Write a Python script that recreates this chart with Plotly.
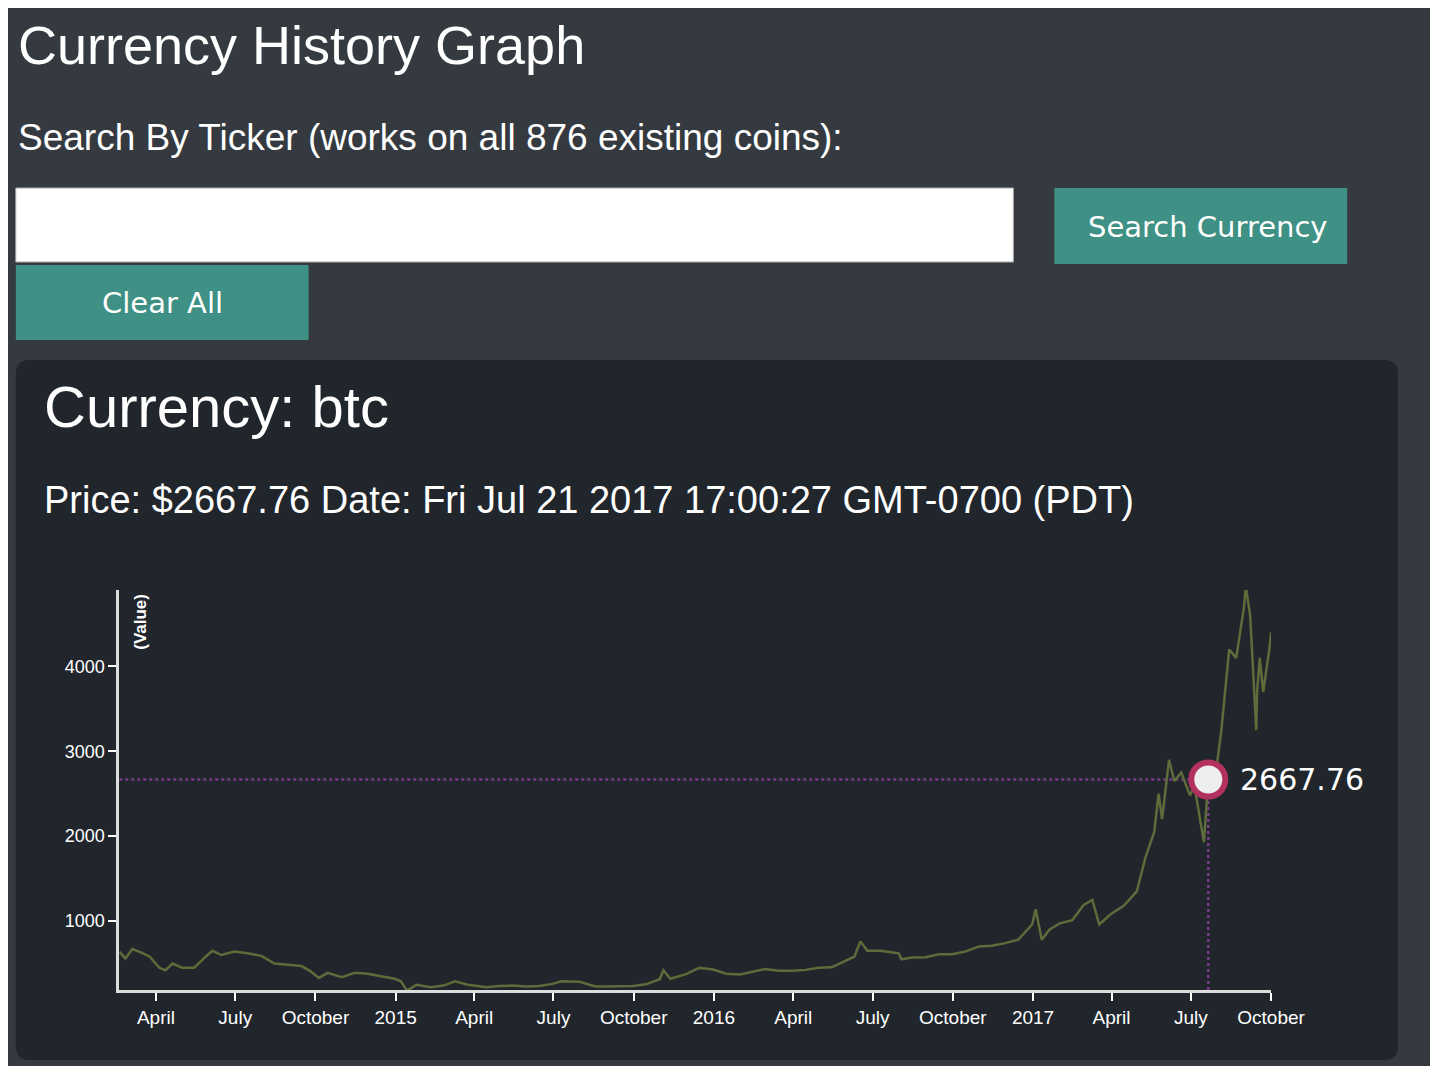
import plotly.graph_objects as go

# page body adds an 8px margin, so the figure is a bit smaller than the window
W, H = 1422, 1058
OFF = 8

# btc price history
dates = [
    "2014-02-18", "2014-02-25", "2014-03-05", "2014-03-15", "2014-03-25", "2014-04-05", "2014-04-12",
    "2014-04-20", "2014-05-01", "2014-05-15", "2014-05-28", "2014-06-05", "2014-06-15", "2014-06-30",
    "2014-07-15", "2014-07-31", "2014-08-15", "2014-08-31", "2014-09-15", "2014-09-25", "2014-10-05",
    "2014-10-15", "2014-10-31", "2014-11-15", "2014-11-30", "2014-12-15", "2014-12-31", "2015-01-07",
    "2015-01-14", "2015-01-25", "2015-02-10", "2015-02-25", "2015-03-10", "2015-03-25", "2015-04-15",
    "2015-04-30", "2015-05-15", "2015-05-31", "2015-06-15", "2015-06-30", "2015-07-10", "2015-07-31",
    "2015-08-18", "2015-08-31", "2015-09-15", "2015-09-30", "2015-10-15", "2015-10-31", "2015-11-04",
    "2015-11-12", "2015-11-30", "2015-12-15", "2015-12-31", "2016-01-15", "2016-01-31", "2016-02-15",
    "2016-02-29", "2016-03-15", "2016-03-31", "2016-04-15", "2016-04-30", "2016-05-15", "2016-05-31",
    "2016-06-10", "2016-06-17", "2016-06-25", "2016-07-10", "2016-07-31", "2016-08-03", "2016-08-15",
    "2016-08-31", "2016-09-15", "2016-09-30", "2016-10-15", "2016-10-31", "2016-11-15", "2016-11-30",
    "2016-12-15", "2016-12-31", "2017-01-04", "2017-01-11", "2017-01-20", "2017-01-31", "2017-02-15",
    "2017-02-28", "2017-03-10", "2017-03-18", "2017-03-31", "2017-04-15", "2017-04-30", "2017-05-10",
    "2017-05-20", "2017-05-25", "2017-05-29", "2017-06-06", "2017-06-12", "2017-06-20", "2017-06-30",
    "2017-07-05", "2017-07-16", "2017-07-21", "2017-07-31", "2017-08-05", "2017-08-14", "2017-08-22",
    "2017-08-31", "2017-09-02", "2017-09-07", "2017-09-14", "2017-09-15", "2017-09-18", "2017-09-22",
    "2017-09-29", "2017-10-01",
]
prices = [
    640, 560, 670, 630, 580, 450, 420,
    500, 450, 450, 580, 650, 600, 640,
    620, 590, 500, 480, 470, 410, 330,
    390, 340, 390, 380, 350, 320, 290,
    180, 250, 220, 240, 290, 250, 220,
    235, 240, 230, 235, 260, 290, 285,
    230, 230, 230, 236, 255, 315, 420,
    320, 375, 450, 430, 380, 370, 400,
    435, 415, 415, 425, 450, 455, 530,
    580, 760, 650, 650, 620, 550, 570,
    575, 610, 610, 640, 700, 710, 740,
    780, 960, 1140, 780, 900, 970, 1010,
    1190, 1250, 960, 1080, 1180, 1350, 1750,
    2050, 2500, 2200, 2900, 2650, 2750, 2480,
    2600, 1930, 2667.76, 2850, 3250, 4200, 4100,
    4700, 4950, 4600, 3250, 3700, 4100, 3700,
    4200, 4400,
]

hover_date = "2017-07-21"
hover_price = 2667.76

tick_dates = ["2014-04-01", "2014-07-01", "2014-10-01", "2015-01-01", "2015-04-01", "2015-07-01",
              "2015-10-01", "2016-01-01", "2016-04-01", "2016-07-01", "2016-10-01", "2017-01-01",
              "2017-04-01", "2017-07-01", "2017-10-01"]
tick_text = ["April", "July", "October", "2015", "April", "July", "October", "2016",
             "April", "July", "October", "2017", "April", "July", "October"]


def px(x):
    return (x - OFF) / W


def py(y):
    return 1 - (y - OFF) / H


fig = go.Figure()
fig.add_trace(go.Scatter(x=dates, y=prices, mode="lines",
                         line=dict(color="#5e6b3a", width=2.5), hoverinfo="skip"))
fig.add_trace(go.Scatter(x=[hover_date], y=[hover_price], mode="markers", cliponaxis=False,
                         marker=dict(size=34, color="#eeeeee", line=dict(color="#b3315e", width=6)),
                         hoverinfo="skip"))

shapes = [
    # card
    dict(type="path", xref="paper", yref="paper", layer="below",
         path="M %f %f L %f %f Q %f %f %f %f L %f %f Q %f %f %f %f L %f %f Q %f %f %f %f L %f %f Q %f %f %f %f Z" % (
             px(30), py(360), px(1418), py(360), px(1432), py(360), px(1432), py(374),
             px(1432), py(1046), px(1432), py(1060), px(1418), py(1060),
             px(30), py(1060), px(16), py(1060), px(16), py(1046),
             px(16), py(374), px(16), py(360), px(30), py(360)),
         fillcolor="#21262c", line=dict(width=0)),
    # search input
    dict(type="rect", xref="paper", yref="paper", layer="below", x0=px(16), x1=px(1038), y0=py(188), y1=py(262),
         fillcolor="white", line=dict(color="#aaaaaa", width=1)),
    # buttons
    dict(type="rect", xref="paper", yref="paper", layer="below", x0=px(1080), x1=px(1380), y0=py(188), y1=py(264),
         fillcolor="#3e9184", line=dict(width=0)),
    dict(type="rect", xref="paper", yref="paper", layer="below", x0=px(16), x1=px(316), y0=py(265), y1=py(340),
         fillcolor="#3e9184", line=dict(width=0)),
    # hover guide lines
    dict(type="line", xref="x", yref="y", layer="below", x0=dates[0], x1=hover_date, y0=hover_price, y1=hover_price,
         line=dict(color="#7b3a8c", width=2.5, dash="dot")),
    dict(type="line", xref="x", yref="y", layer="below", x0=hover_date, x1=hover_date, y0=188, y1=hover_price,
         line=dict(color="#7b3a8c", width=2.5, dash="dot")),
]

font = "Liberation Sans, Arial"
annotations = [
    dict(text="Currency History Graph", x=px(16), y=py(45), size=54),
    dict(text="Search By Ticker (works on all 876 existing coins):", x=px(16), y=py(138), size=37),
    dict(text="Currency: btc", x=px(43), y=py(406), size=58),
    dict(text="Price: $2667.76 Date: Fri Jul 21 2017 17:00:27 GMT-0700 (PDT)", x=px(43), y=py(500), size=38),
]
ann = []
for a in annotations:
    ann.append(dict(text=a["text"], x=a["x"], y=a["y"], xref="paper", yref="paper",
                    xanchor="left", yanchor="middle", showarrow=False,
                    font=dict(color="white", size=a["size"], family=font)))
ann.append(dict(text="Search Currency", x=px(1237), y=py(227), xref="paper", yref="paper",
                xanchor="center", yanchor="middle",
                showarrow=False, font=dict(color="white", size=29, family="DejaVu Sans")))
ann.append(dict(text="Clear All", x=px(166), y=py(303), xref="paper", yref="paper",
                xanchor="center", yanchor="middle",
                showarrow=False, font=dict(color="white", size=29, family="DejaVu Sans")))
ann.append(dict(text="<b>(Value)</b>", x=px(143), y=py(622), xref="paper", yref="paper",
                xanchor="center", yanchor="middle",
                textangle=-90, showarrow=False, font=dict(color="white", size=17, family=font)))
ann.append(dict(text="%.2f" % hover_price, x=hover_date, y=hover_price, xref="x", yref="y",
                xanchor="left", yanchor="middle", xshift=30,
                showarrow=False, font=dict(color="white", size=30, family="DejaVu Sans")))

fig.update_layout(
    width=W, height=H, margin=dict(l=0, r=0, t=0, b=0),
    paper_bgcolor="#343a40", plot_bgcolor="rgba(0,0,0,0)",
    showlegend=False, shapes=shapes, annotations=ann,
    xaxis=dict(domain=[px(122), px(1302)], range=[dates[0], "2017-10-01"],
               tickvals=tick_dates, ticktext=tick_text, ticks="outside", ticklen=8,
               tickcolor="white", tickwidth=2, showgrid=False, zeroline=False,
               showline=True, linecolor="#dddddd", linewidth=3,
               tickfont=dict(color="white", size=19, family=font)),
    yaxis=dict(domain=[py(990), py(590)], range=[188, 4900],
               tickvals=[1000, 2000, 3000, 4000], ticks="outside", ticklen=8,
               tickcolor="white", tickwidth=2, showgrid=False, zeroline=False,
               showline=True, linecolor="#dddddd", linewidth=3,
               tickfont=dict(color="white", size=18, family=font)),
)

fig.write_html("out.html")
